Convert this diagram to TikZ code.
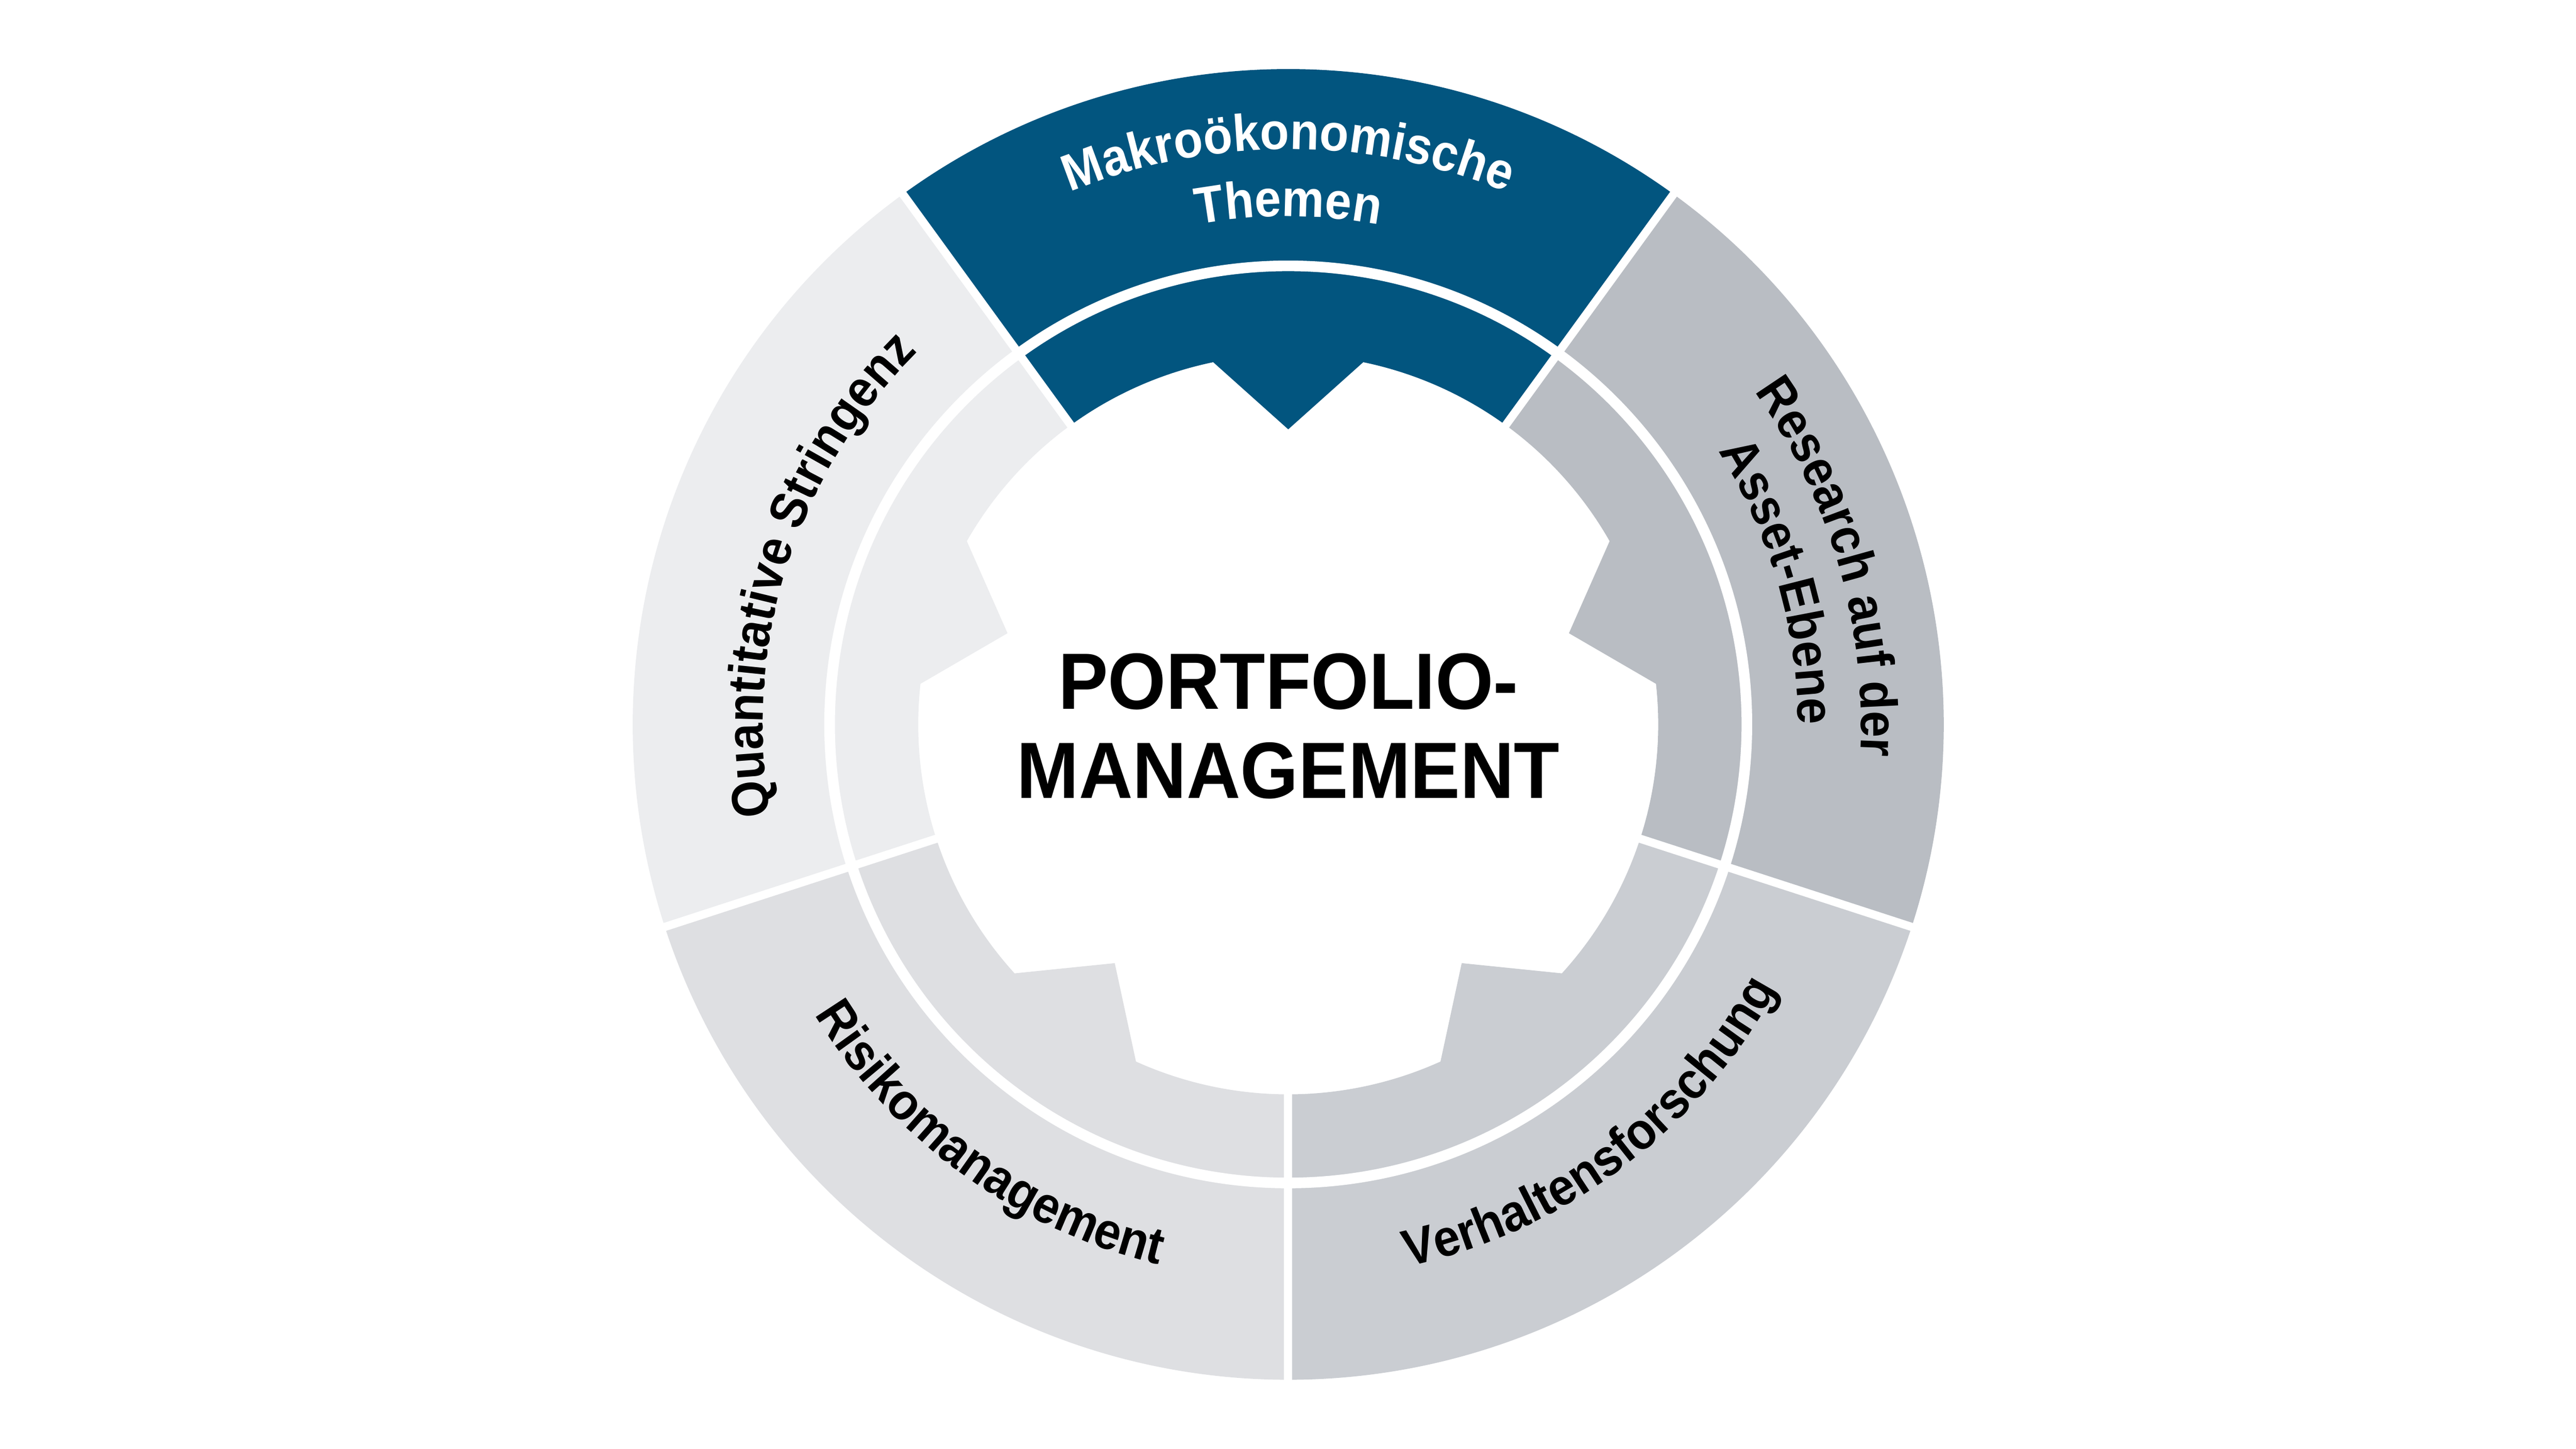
\documentclass[tikz,border=0pt]{standalone}
\usepackage{fontspec}
\setmainfont{Liberation Sans}[FakeStretch=0.92]
\newfontfamily\ctrfamily{Liberation Sans}[FakeStretch=0.935]
\usetikzlibrary{decorations.text}
\definecolor{cBlue}{HTML}{02557F}
\definecolor{cRes}{HTML}{B9BDC3}
\definecolor{cVer}{HTML}{CACDD2}
\definecolor{cRis}{HTML}{DEDFE2}
\definecolor{cQua}{HTML}{ECEDEF}
\newcommand\lblfont{\fontsize{30.5}{36}\selectfont\bfseries}
\newcommand\wlblfont{\fontsize{30.5}{36}\selectfont\bfseries\color{white}}
\tikzset{
  sepline/.style={white, line width=0.17cm},
  sepcircle/.style={white, line width=0.22cm},
  centertext/.style={font=\ctrfamily\fontsize{47}{52}\selectfont\bfseries, anchor=base, inner sep=0pt},
}
\begin{document}
\begin{tikzpicture}
\useasboundingbox (-26.67,-15) rectangle (26.66,15);
\def\Ro{13.57}\def\Rm{9.495}\def\Ri{7.66}\def\Rt{6.11}\def\ha{11.7}
\foreach \c/\col in {90/cBlue,18/cRes,306/cVer,234/cRis,162/cQua}{
  \fill[\col] ({\c-36}:\Rm) arc[start angle={\c-36}, end angle={\c+36}, radius=\Rm]
     -- ({\c+36}:\Ro) arc[start angle={\c+36}, end angle={\c-36}, radius=\Ro] -- cycle;
  \fill[\col] ({\c-36}:\Rm) arc[start angle={\c-36}, end angle={\c+36}, radius=\Rm]
     -- ({\c+36}:\Ri) arc[start angle={\c+36}, end angle={\c+\ha}, radius=\Ri]
     -- (\c:\Rt) -- ({\c-\ha}:\Ri) arc[start angle={\c-\ha}, end angle={\c-36}, radius=\Ri] -- cycle;
}
\draw[sepcircle] (0,0) circle[radius=\Rm];
\foreach \a in {54,126,198,270,342} \draw[sepline] (\a:7.3) -- (\a:13.8);
% labels, tops outward (clockwise paths)
\path[decorate, decoration={text along path, text align=center, text={|\wlblfont|Makroökonomische}}]
  (125:11.91) arc[start angle=125, end angle=55, radius=11.91];
\path[decorate, decoration={text along path, text align=center, text={|\wlblfont|Themen}}]
  (125:10.52) arc[start angle=125, end angle=55, radius=10.52];
\path[decorate, decoration={text along path, text align=center, text={|\lblfont|Research auf der}}]
  (51.2:11.86) arc[start angle=51.2, end angle=-18.8, radius=11.86];
\path[decorate, decoration={text along path, text align=center, text={|\lblfont|Asset-Ebene}}]
  (51.2:10.55) arc[start angle=51.2, end angle=-18.8, radius=10.55];
\path[decorate, decoration={text along path, text align=center, text={|\lblfont|Quantitative Stringenz}}]
  (197.4:10.88) arc[start angle=197.4, end angle=127.4, radius=10.88];
% labels, tops inward (counterclockwise paths)
\path[decorate, decoration={text along path, text align=center, text={|\lblfont|Risikomanagement}}]
  (199:11.50) arc[start angle=199, end angle=269, radius=11.50];
\path[decorate, decoration={text along path, text align=center, text={|\lblfont|Verhaltensforschung}}]
  (272:11.50) arc[start angle=272, end angle=342, radius=11.50];
% centre
\node[centertext] (pf) at (0,0.32) {PORTFOLIO-};
\node[centertext] (mg) at (0,-1.53) {MANAGEMENT};
\end{tikzpicture}
\end{document}
